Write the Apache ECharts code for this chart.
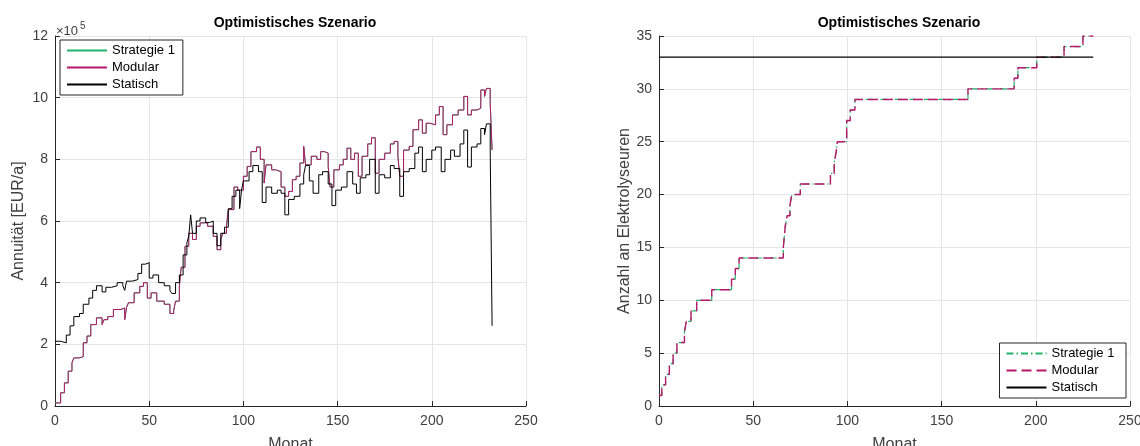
<!DOCTYPE html>
<html>
<head>
<meta charset="utf-8">
<script src="https://cdn.jsdelivr.net/npm/echarts@6/dist/echarts.min.js"></script>
<style>
  html, body { margin: 0; padding: 0; background: #fff; }
  #chart { width: 1140px; height: 446px; }
</style>
</head>
<body>
<div id="chart"></div>
<script>
(function () {
  "use strict";

  const modularMonths = [0, 3, 5, 7, 9, 10, 13, 15, 17, 19, 22, 25, 26, 28, 31, 35, 37, 38, 39, 42, 45, 47, 49, 51, 54, 58, 61, 63, 64, 66, 67, 69, 71, 73, 75, 77, 81, 84, 86, 88, 89, 91, 92, 95, 97, 100, 102, 104, 107, 109, 111, 112, 115, 117, 120, 122, 124, 126, 128, 130, 132, 133, 136, 139, 141, 143, 145, 146, 148, 151, 153, 155, 157, 159, 161, 163, 166, 168, 170, 172, 175, 178, 180, 182, 183, 185, 188, 190, 193, 195, 197, 199, 202, 204, 206, 208, 211, 214, 217, 219, 221, 224, 226, 228, 229, 231, 232];
  const modularValues = [0.1, 0.43, 0.75, 1.13, 1.4, 1.56, 1.6, 2.05, 2.27, 2.64, 2.86, 2.64, 2.8, 2.9, 3.13, 3.18, 2.8, 3.2, 3.35, 3.67, 3.88, 4.0, 3.5, 3.67, 3.4, 3.3, 3.0, 3.1, 3.4, 3.88, 4.5, 5.18, 5.6, 5.4, 5.83, 5.94, 5.83, 5.5, 5.07, 5.4, 5.6, 5.83, 6.37, 7.1, 7.0, 7.45, 7.77, 8.25, 8.4, 8.0, 7.23, 7.82, 7.66, 7.6, 7.1, 6.8, 6.96, 7.34, 7.45, 7.88, 8.42, 7.82, 8.1, 8.0, 8.25, 8.2, 7.77, 7.1, 7.66, 7.82, 8.0, 8.36, 8.0, 8.2, 7.45, 8.1, 8.5, 8.7, 7.55, 8.0, 8.2, 8.5, 8.58, 8.1, 7.45, 8.3, 8.42, 8.96, 9.28, 8.85, 9.17, 9.12, 9.44, 9.71, 8.8, 9.12, 9.44, 9.6, 10.04, 9.44, 9.6, 9.66, 10.25, 10.04, 10.3, 9.82, 8.3];
  // Strategie 1 liegt praktisch deckungsgleich unter Modular
  const strategie1Months = modularMonths;
  const strategie1Values = modularValues;
  const statischMonths = [0, 3, 6, 8, 10, 13, 15, 18, 20, 22, 25, 27, 30, 33, 36, 37, 38, 41, 44, 46, 48, 50, 52, 55, 58, 61, 62, 64, 66, 68, 70, 71, 72, 73, 75, 77, 80, 82, 84, 86, 88, 90, 92, 94, 96, 98, 99, 100, 103, 105, 108, 110, 112, 115, 118, 120, 122, 124, 127, 130, 132, 133, 135, 137, 140, 142, 145, 147, 149, 152, 155, 158, 160, 162, 165, 167, 170, 172, 175, 178, 180, 183, 185, 188, 191, 193, 195, 197, 200, 202, 205, 207, 210, 212, 215, 217, 219, 221, 224, 226, 228, 229, 231, 232];
  const statischValues = [2.1, 2.05, 2.3, 2.6, 2.9, 3.0, 3.3, 3.5, 3.75, 3.9, 3.7, 3.85, 3.9, 4.0, 3.9, 3.75, 4.05, 4.1, 4.3, 4.6, 4.65, 4.15, 4.25, 4.0, 3.9, 3.75, 3.65, 4.0, 4.25, 4.9, 5.3, 5.5, 6.2, 5.6, 6.0, 6.1, 5.95, 6.0, 5.6, 5.2, 5.6, 5.8, 6.4, 6.8, 7.0, 6.4, 7.0, 7.3, 7.6, 7.8, 7.6, 6.6, 7.1, 6.9, 7.0, 6.9, 6.2, 6.7, 6.8, 7.2, 7.5, 7.8, 7.3, 6.9, 7.5, 7.6, 7.2, 6.5, 7.0, 7.1, 7.6, 7.2, 6.9, 7.4, 7.5, 8.0, 6.9, 7.5, 7.4, 7.8, 7.7, 6.8, 7.6, 7.7, 8.2, 8.4, 7.6, 8.0, 8.3, 8.4, 7.6, 8.0, 8.3, 8.1, 8.5, 8.95, 7.75, 8.4, 8.5, 9.0, 8.8, 9.15, 8.3, 2.6];

  // Anzahl an Elektrolyseuren (Stufen: Monat ab dem der Wert gilt)
  const anzahlMonths = [0, 1.5, 3.5, 5.5, 7.5, 9.5, 13.5, 14.5, 17, 20, 28, 38.5, 40.5, 42.5, 66, 67, 68, 69.5, 70.5, 75, 91, 93, 94, 94.7, 99.6, 101.5, 104, 164, 188.5, 190.5, 200.5, 215, 225, 230.5];
  const anzahlValues = [1, 2, 3, 4, 5, 6, 7, 8, 9, 10, 11, 12, 13, 14, 15, 17, 18, 19, 20, 21, 22, 23, 24, 25, 27, 28, 29, 30, 31, 32, 33, 34, 35, 35];
  const anzahlStatischMonths = [0, 230.5];
  const anzahlStatischValues = [33, 33];

  const xTicks = { min: 0, max: 250, interval: 50 };
  const yLeftTicks = { min: 0, max: 12, interval: 2 };
  const yRightTicks = { min: 0, max: 35, interval: 5 };

  const COLORS = {
    strat: "#21b36a", modular: "#b8176b", statisch: "#000000",
    text: "#404040", axis: "#262626", grid: "#e6e6e6",
  };
  const FONT = "'Liberation Sans', Arial, Helvetica, sans-serif";

  const pairs = (xs, ys) => xs.map((x, i) => [x, ys[i]]);

  function xAxis(gridIndex) {
    return {
      type: "value", gridIndex, min: xTicks.min, max: xTicks.max, interval: xTicks.interval,
      name: "Monat", nameLocation: "middle", nameGap: 31,
      nameTextStyle: { fontFamily: FONT, fontSize: 16, color: COLORS.text },
      axisLine: { lineStyle: { color: COLORS.axis, width: 1 } },
      axisTick: { inside: true, length: 5, lineStyle: { color: COLORS.axis } },
      axisLabel: { fontFamily: FONT, fontSize: 14, color: COLORS.text, margin: 8 },
      splitLine: { show: true, lineStyle: { color: COLORS.grid, width: 1 } },
    };
  }

  function yAxis(gridIndex, ticks, name, nameGap) {
    return {
      type: "value", gridIndex, min: ticks.min, max: ticks.max, interval: ticks.interval,
      name, nameLocation: "middle", nameGap,
      nameTextStyle: { fontFamily: FONT, fontSize: 16, color: COLORS.text },
      axisLine: { show: true, lineStyle: { color: COLORS.axis, width: 1 } },
      axisTick: { show: true, inside: true, length: 5, lineStyle: { color: COLORS.axis } },
      axisLabel: { fontFamily: FONT, fontSize: 14, color: COLORS.text, margin: 7 },
      splitLine: { show: true, lineStyle: { color: COLORS.grid, width: 1 } },
    };
  }

  function line(name, idx, data, color, width, type) {
    return {
      type: "line", name, xAxisIndex: idx, yAxisIndex: idx, data,
      step: "end", symbol: "none", silent: true, animation: false,
      lineStyle: { color, width, type: type || "solid" },
      itemStyle: { color },
    };
  }

  const legendBase = {
    orient: "vertical", itemWidth: 40, itemHeight: 12, itemGap: 4,
    padding: [4, 8, 4, 6], borderColor: COLORS.axis, borderWidth: 1,
    backgroundColor: "#fff", borderRadius: 0,
    itemStyle: { opacity: 0 },
    textStyle: { fontFamily: FONT, fontSize: 13, color: "#000" },
  };

  const chart = echarts.init(document.getElementById("chart"), null, { renderer: "canvas" });
  chart.setOption({
    backgroundColor: "#fff",
    animation: false,
    title: [
      { text: "Optimistisches Szenario", left: 290, top: 11, textAlign: "center",
        textStyle: { fontFamily: FONT, fontSize: 14, fontWeight: "bold", color: "#000" } },
      { text: "Optimistisches Szenario", left: 894, top: 11, textAlign: "center",
        textStyle: { fontFamily: FONT, fontSize: 14, fontWeight: "bold", color: "#000" } },
    ],
    graphic: [
      { type: "text", left: 56, top: 25,
        style: { text: "×10", fontFamily: FONT, fontSize: 13, fill: COLORS.text } },
      { type: "text", left: 80, top: 21,
        style: { text: "5", fontFamily: FONT, fontSize: 10, fill: COLORS.text } },
    ],
    grid: [
      { left: 55, right: 614, top: 36, bottom: 40, outerBoundsMode: "none" },
      { left: 659, right: 10, top: 36, bottom: 40, outerBoundsMode: "none" },
    ],
    xAxis: [xAxis(0), xAxis(1)],
    yAxis: [
      yAxis(0, yLeftTicks, "Annuität [EUR/a]", 28),
      yAxis(1, yRightTicks, "Anzahl an Elektrolyseuren", 25),
    ],
    legend: [
      Object.assign({}, legendBase, { left: 60, top: 40, data: ["Strategie 1", "Modular", "Statisch"] }),
      Object.assign({}, legendBase, { right: 14, bottom: 48, data: ["Strategie 1 ", "Modular ", "Statisch "] }),
    ],
    series: [
      line("Strategie 1", 0, pairs(strategie1Months, strategie1Values), COLORS.strat, 1),
      line("Modular", 0, pairs(modularMonths, modularValues), COLORS.modular, 1),
      line("Statisch", 0, pairs(statischMonths, statischValues), COLORS.statisch, 1),
      line("Strategie 1 ", 1, pairs(anzahlMonths, anzahlValues), COLORS.strat, 1.2, [7, 3, 1.5, 3]),
      line("Modular ", 1, pairs(anzahlMonths, anzahlValues), COLORS.modular, 1.4, [10, 5]),
      line("Statisch ", 1, pairs(anzahlStatischMonths, anzahlStatischValues), COLORS.statisch, 1.2),
    ],
  });
})();
</script>
</body>
</html>
